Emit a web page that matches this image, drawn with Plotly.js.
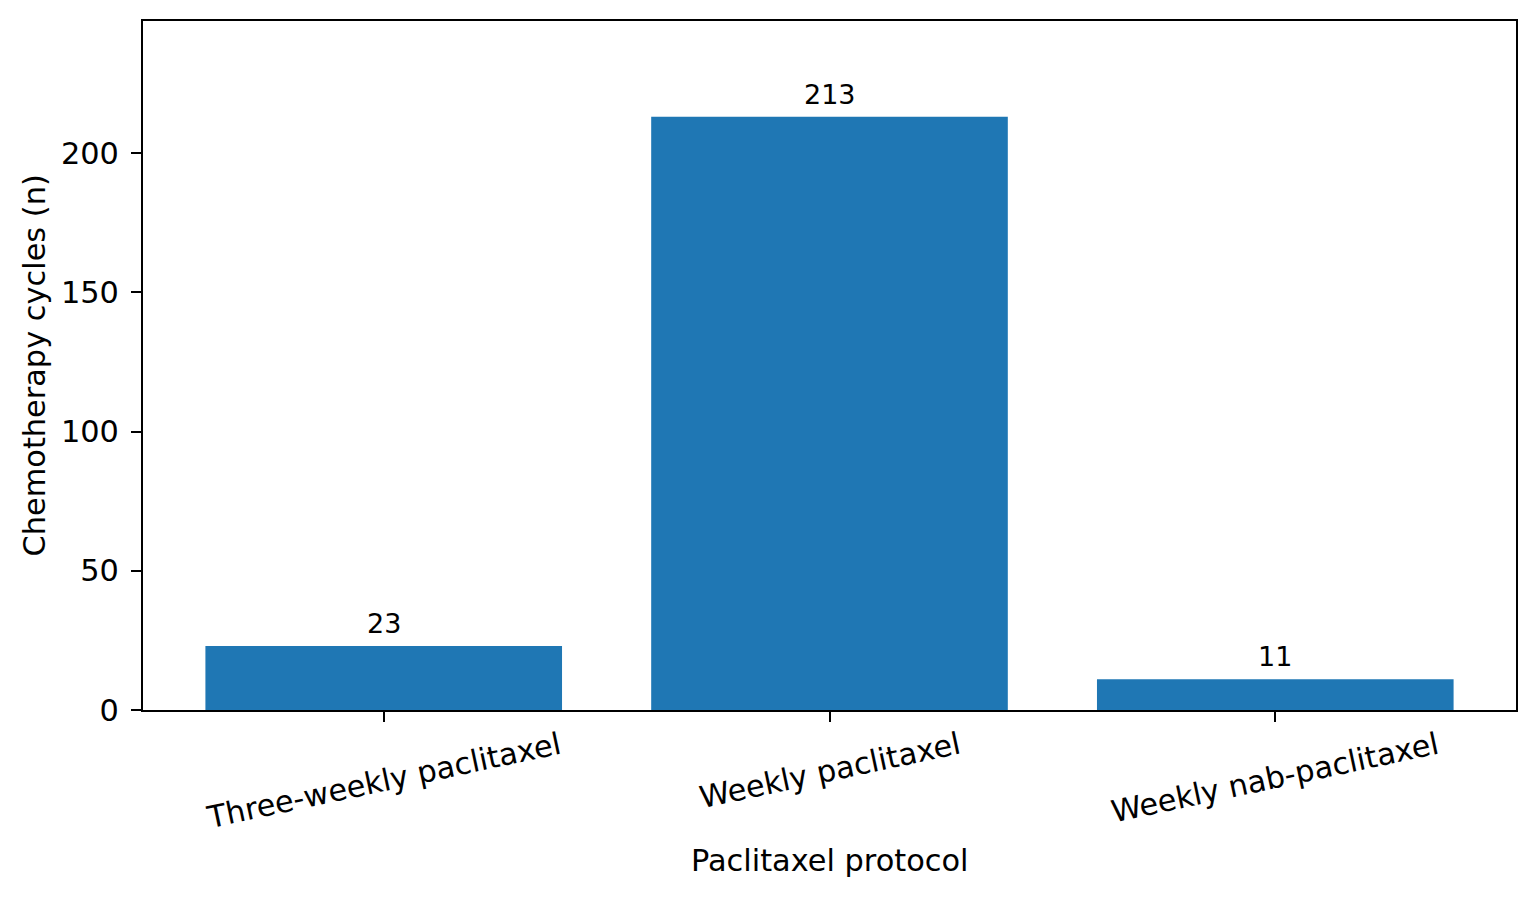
<!DOCTYPE html>
<html>
<head>
<meta charset="utf-8">
<script src="https://cdn.plot.ly/plotly-3.0.1.min.js"></script>
<style>
  html, body { margin: 0; padding: 0; background: #fff; }
  #chart { width: 1538px; height: 898px; }
</style>
</head>
<body>
<div id="chart"></div>
<script>
// paclitaxel protocols and cycle counts
var protocols = ['Three-weekly paclitaxel', 'Weekly paclitaxel', 'Weekly nab-paclitaxel'];
var cycles = [23, 213, 11];
var yTicks = [0, 50, 100, 150, 200];

var font = 'DejaVu Sans, sans-serif';
var positions = protocols.map(function (p, i) { return i; });

var data = [{
  type: 'bar',
  x: positions,
  y: cycles,
  width: 0.8,
  marker: { color: '#1f77b4' },
  hoverinfo: 'none'
}];

var annotations = [];

// value labels above the bars
cycles.forEach(function (v, i) {
  annotations.push({
    x: i, y: v, xref: 'x', yref: 'y',
    text: String(v), showarrow: false,
    xanchor: 'center', yanchor: 'bottom', yshift: 5,
    font: { family: font, size: 27, color: '#000' }
  });
});

// rotated category labels, centred under their ticks
protocols.forEach(function (p, i) {
  annotations.push({
    x: i, y: 0, xref: 'x', yref: 'paper',
    text: p, showarrow: false, textangle: -12,
    xanchor: 'center', yanchor: 'top', yshift: -13,
    font: { family: font, size: 30.4, color: '#000' }
  });
});

// axis titles
annotations.push({
  x: 0.5, y: 0, xref: 'paper', yref: 'paper',
  text: 'Paclitaxel protocol', showarrow: false,
  xanchor: 'center', yanchor: 'middle', yshift: -150,
  font: { family: font, size: 30.4, color: '#000' }
});
annotations.push({
  x: 0, y: 0.5, xref: 'paper', yref: 'paper',
  text: 'Chemotherapy cycles (n)', showarrow: false, textangle: -90,
  xanchor: 'center', yanchor: 'middle', xshift: -109,
  font: { family: font, size: 30.4, color: '#000' }
});

var layout = {
  width: 1538,
  height: 898,
  margin: { l: 143, r: 22, t: 21, b: 188 },
  paper_bgcolor: '#fff',
  plot_bgcolor: '#fff',
  showlegend: false,
  font: { family: font, size: 30.4, color: '#000' },
  xaxis: {
    range: [-0.54, 2.54],
    tickmode: 'array',
    tickvals: positions,
    showticklabels: false,
    ticks: 'outside',
    ticklen: 10,
    tickwidth: 2,
    tickcolor: '#000',
    showline: true,
    linecolor: '#000',
    linewidth: 2,
    mirror: true,
    showgrid: false,
    zeroline: false
  },
  yaxis: {
    range: [0, 247.4],
    tickmode: 'array',
    tickvals: yTicks,
    ticks: 'outside',
    ticklen: 10,
    tickwidth: 2,
    tickcolor: '#000',
    ticklabelstandoff: 6,
    tickfont: { family: font, size: 30.4, color: '#000' },
    showline: true,
    linecolor: '#000',
    linewidth: 2,
    mirror: true,
    showgrid: false,
    zeroline: false
  },
  annotations: annotations
};

Plotly.newPlot('chart', data, layout, { displayModeBar: false, staticPlot: true });
</script>
</body>
</html>
